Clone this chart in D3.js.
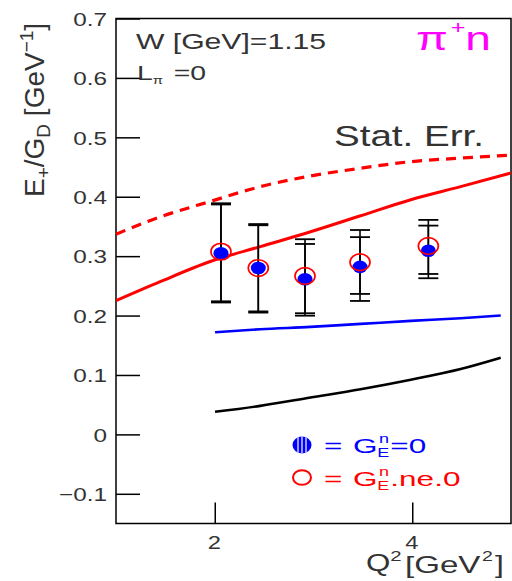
<!DOCTYPE html>
<html>
<head>
<meta charset="utf-8">
<script src="https://cdn.jsdelivr.net/npm/d3@7"></script>
<style>
  html, body { margin: 0; padding: 0; background: #fff; }
  svg { display: block; }
  text { font-family: "Liberation Sans", Arial, sans-serif; }
</style>
</head>
<body>
<svg id="chart" width="512" height="581"></svg>
<script>
// Q^2 [GeV^2] of the measured points
const q2Points = [2.063, 2.441, 2.914, 3.471, 4.163];

// E+/G_D with G_E^n = 0 (filled blue) and its error bar ends
const blueVals = [0.305, 0.280, 0.261, 0.282, 0.309];
const blueHi   = [0.387, 0.352, 0.3205, 0.332, 0.3514];
const blueLo   = [0.222, 0.205, 0.1998, 0.2246, 0.2628];

// E+/G_D with G_E^n != 0 (open red) and its error bar ends
const redVals = [0.3076, 0.280, 0.2667, 0.2897, 0.3172];
const redHi   = [0.389, 0.354, 0.3285, 0.344, 0.361];
const redLo   = [0.224, 0.207, 0.2039, 0.2364, 0.270];

// model curves
const q2Wide     = [1.0, 1.447, 1.954, 2.462, 2.97, 3.477, 3.985, 4.49, 5.0];
const redDashed  = [0.337, 0.366, 0.392, 0.417, 0.435, 0.448, 0.459, 0.465, 0.470];
const redSolid   = [0.225, 0.257, 0.291, 0.316, 0.341, 0.368, 0.395, 0.417, 0.440];
const q2Narrow   = [2.003, 2.46, 2.97, 3.477, 3.985, 4.49, 4.896];
const blueCurve  = [0.172, 0.177, 0.181, 0.186, 0.191, 0.1955, 0.200];
const blackCurve = [0.038, 0.048, 0.062, 0.076, 0.092, 0.110, 0.129];

const yTickVals = [-0.1, 0, 0.1, 0.2, 0.3, 0.4, 0.5, 0.6, 0.7];
const xTickVals = [2, 4];

const TXT = '#333';
const svg = d3.select('#chart');
const L = 116, R = 511, T = 18.5, B = 523.5;

const x = d3.scaleLinear().domain([1, 5]).range([L, R]);
const y = d3.scaleLinear().domain([-0.15, 0.7]).range([B, T]);

svg.append('defs').append('clipPath').attr('id', 'plotClip')
  .append('rect').attr('x', L).attr('y', T).attr('width', R - L).attr('height', B - T);

// axes: ticks point into the frame
const yAxis = svg.append('g').attr('transform', `translate(${L},0)`)
  .call(d3.axisLeft(y).tickValues(yTickVals).tickSizeInner(-24).tickSizeOuter(0)
        .tickFormat(d3.format('.1~f')));
yAxis.select('.domain').remove();
yAxis.selectAll('line').attr('stroke', '#000').attr('stroke-width', 1.5);
yAxis.selectAll('text').attr('x', null).attr('dy', '0.36em')
  .attr('transform', 'translate(-9,0) scale(1.28,1)')
  .attr('font-size', 19).attr('fill', TXT)
  .attr('font-family', '"Liberation Sans", Arial, sans-serif');

const xAxis = svg.append('g').attr('transform', `translate(0,${B})`)
  .call(d3.axisBottom(x).tickValues(xTickVals).tickSizeInner(-21).tickSizeOuter(0)
        .tickPadding(12).tickFormat(d3.format('d')));
xAxis.select('.domain').remove();
xAxis.selectAll('line').attr('stroke', '#000').attr('stroke-width', 1.5);
xAxis.selectAll('text').attr('font-size', 19).attr('fill', TXT)
  .attr('transform', 'translate(-1,0) scale(1.25,1)')
  .attr('font-family', '"Liberation Sans", Arial, sans-serif');

// frame
svg.append('rect').attr('x', L).attr('y', T).attr('width', R - L).attr('height', B - T)
  .attr('fill', 'none').attr('stroke', '#000').attr('stroke-width', 1.5);

// curves
const line = d3.line().x(d => x(d[0])).y(d => y(d[1])).curve(d3.curveMonotoneX);
const curves = svg.append('g').attr('clip-path', 'url(#plotClip)');
curves.append('path').datum(d3.zip(q2Wide, redDashed)).attr('d', line)
  .attr('fill', 'none').attr('stroke', '#ff0000').attr('stroke-width', 3.2)
  .attr('stroke-dasharray', '10,7');
curves.append('path').datum(d3.zip(q2Wide, redSolid)).attr('d', line)
  .attr('fill', 'none').attr('stroke', '#ff0000').attr('stroke-width', 3);
curves.append('path').datum(d3.zip(q2Narrow, blueCurve)).attr('d', line)
  .attr('fill', 'none').attr('stroke', '#0000ff').attr('stroke-width', 2.6);
curves.append('path').datum(d3.zip(q2Narrow, blackCurve)).attr('d', line)
  .attr('fill', 'none').attr('stroke', '#000').attr('stroke-width', 2.6);

// error bars
function errorBars(lo, hi) {
  const g = svg.append('g').attr('stroke', '#000');
  q2Points.forEach((q, i) => {
    g.append('line').attr('x1', x(q)).attr('x2', x(q)).attr('y1', y(hi[i])).attr('y2', y(lo[i]))
      .attr('stroke-width', 1.6);
    [hi[i], lo[i]].forEach(v => {
      g.append('line').attr('x1', x(q) - 10).attr('x2', x(q) + 10).attr('y1', y(v)).attr('y2', y(v))
        .attr('stroke-width', 1.8);
    });
  });
}
errorBars(blueLo, blueHi);
errorBars(redLo, redHi);

// markers
svg.append('g').selectAll('ellipse').data(d3.zip(q2Points, blueVals)).join('ellipse')
  .attr('cx', d => x(d[0])).attr('cy', d => y(d[1])).attr('rx', 7.5).attr('ry', 6.3)
  .attr('fill', '#0000ff');
svg.append('g').selectAll('ellipse').data(d3.zip(q2Points, redVals)).join('ellipse')
  .attr('cx', d => x(d[0])).attr('cy', d => y(d[1])).attr('rx', 10).attr('ry', 8.3)
  .attr('fill', 'none').attr('stroke', '#ff0000').attr('stroke-width', 1.7);

// text helper: pieces are [string, size, dy, dx]
function label(px, py, pieces, opts = {}) {
  const g = svg.append('g')
    .attr('transform', `translate(${px},${py}) ${opts.rotate ? 'rotate(' + opts.rotate + ')' : ''} scale(${opts.sx || 1},1)`);
  const t = g.append('text').attr('fill', opts.color || TXT)
    .attr('text-anchor', opts.anchor || 'start');
  pieces.forEach(p => {
    const s = t.append('tspan').text(p[0]).attr('font-size', p[1]);
    if (p[2]) s.attr('dy', p[2]);
    if (p[3]) s.attr('dx', p[3]);
  });
  return t;
}

label(136, 49, [['W [GeV]=1.15', 22]], { sx: 1.37 });
label(137, 80, [['L', 21], ['π', 11, 4], ['=0', 21, -4, 8]], { sx: 1.35 });

// reaction channel
label(416, 50, [['π', 33], ['+', 18, -16, 2], ['n', 33, 16, 0]], { color: '#ff00ff', sx: 1.4 });

label(334, 146, [['Stat. Err.', 29]], { sx: 1.33 });

// y-axis title
label(44, 197, [['E', 28], ['+', 19, 6], ['/G', 28, -6], ['D', 19, 6], [' [GeV', 28, -6], ['−1', 19, -11], [']', 28, 11]],
      { rotate: -90 });

// x-axis title, set in pieces so the tick label above "[" stays clear
label(366, 571, [['Q', 23], ['2', 15, -10]], { sx: 1.36 });
label(405, 573, [['[GeV', 23]], { sx: 1.44 });
label(482, 561, [['2', 15]], { sx: 1.3 });
label(495, 573, [[']', 23]], { sx: 1.38 });

// legend
const lg = svg.append('g');
lg.append('clipPath').attr('id', 'dotClip').append('ellipse')
  .attr('cx', 302).attr('cy', 445).attr('rx', 9.5).attr('ry', 8.5);
lg.append('ellipse').attr('cx', 302).attr('cy', 445).attr('rx', 9.5).attr('ry', 8.5).attr('fill', '#0000ff');
[-4, 0, 4].forEach(dx => {
  lg.append('line').attr('x1', 302 + dx).attr('x2', 302 + dx).attr('y1', 436).attr('y2', 454)
    .attr('stroke', '#fff').attr('stroke-width', 1.2).attr('clip-path', 'url(#dotClip)');
});
lg.append('ellipse').attr('cx', 302).attr('cy', 477.5).attr('rx', 9).attr('ry', 7.3)
  .attr('fill', 'none').attr('stroke', '#ff0000').attr('stroke-width', 2);

label(324, 453, [['=', 21], ['G', 21, 0, 7], ['E', 12, 4], ['n', 12, -14, -7], ['=0', 21, 10, 1]],
      { color: '#0000ff', sx: 1.5 });
label(324, 486, [['=', 21], ['G', 21, 0, 7], ['E', 12, 4], ['n', 12, -14, -7], ['.ne.0', 21, 10, 1]],
      { color: '#ff0000', sx: 1.5 });
</script>
</body>
</html>
